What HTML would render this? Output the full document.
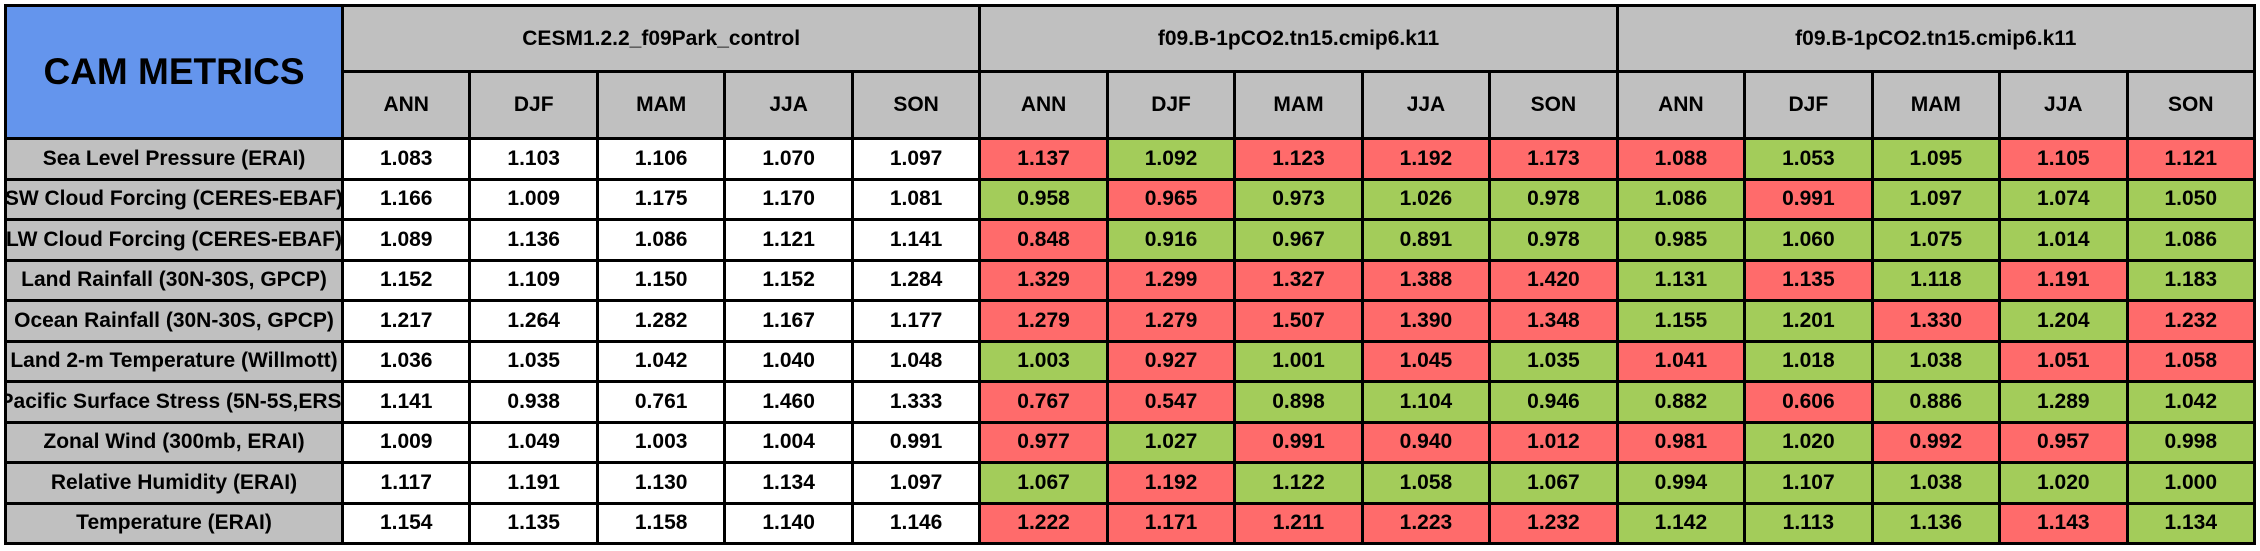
<!DOCTYPE html>
<html><head><meta charset="utf-8"><style>
body{margin:0;background:#fff;width:2260px;height:551px;overflow:hidden;font-family:"Liberation Sans",Arial,sans-serif;font-weight:bold;}
.g{position:absolute;left:4px;top:4px;width:2246px;height:535px;padding:3px;background:#000;display:grid;grid-template-columns:334px repeat(15,1fr);grid-template-rows:63px 64px repeat(10,1fr);gap:3px;}
.g>div{display:flex;align-items:center;justify-content:center;overflow:hidden;white-space:nowrap;font-size:21px;background:#fff;color:#000;}
.t{grid-row:1/3;background:#6495ed!important;font-size:37px!important;}
.h{background:#c0c0c0!important;}
.gh{grid-column:span 5;}
.l{background:#c0c0c0!important;}
.r{background:#ff6b6b!important;}
.n{background:#a3cc5a!important;}
</style></head><body><div class="g">
<div class="t">CAM METRICS</div>
<div class="h gh">CESM1.2.2_f09Park_control</div>
<div class="h gh">f09.B-1pCO2.tn15.cmip6.k11</div>
<div class="h gh">f09.B-1pCO2.tn15.cmip6.k11</div>
<div class="h">ANN</div><div class="h">DJF</div><div class="h">MAM</div><div class="h">JJA</div><div class="h">SON</div>
<div class="h">ANN</div><div class="h">DJF</div><div class="h">MAM</div><div class="h">JJA</div><div class="h">SON</div>
<div class="h">ANN</div><div class="h">DJF</div><div class="h">MAM</div><div class="h">JJA</div><div class="h">SON</div>

<div class="l">Sea Level Pressure (ERAI)</div>
<div>1.083</div><div>1.103</div><div>1.106</div><div>1.070</div><div>1.097</div>
<div class="r">1.137</div><div class="n">1.092</div><div class="r">1.123</div><div class="r">1.192</div><div class="r">1.173</div>
<div class="r">1.088</div><div class="n">1.053</div><div class="n">1.095</div><div class="r">1.105</div><div class="r">1.121</div>

<div class="l">SW Cloud Forcing (CERES-EBAF)</div>
<div>1.166</div><div>1.009</div><div>1.175</div><div>1.170</div><div>1.081</div>
<div class="n">0.958</div><div class="r">0.965</div><div class="n">0.973</div><div class="n">1.026</div><div class="n">0.978</div>
<div class="n">1.086</div><div class="r">0.991</div><div class="n">1.097</div><div class="n">1.074</div><div class="n">1.050</div>

<div class="l">LW Cloud Forcing (CERES-EBAF)</div>
<div>1.089</div><div>1.136</div><div>1.086</div><div>1.121</div><div>1.141</div>
<div class="r">0.848</div><div class="n">0.916</div><div class="n">0.967</div><div class="n">0.891</div><div class="n">0.978</div>
<div class="n">0.985</div><div class="n">1.060</div><div class="n">1.075</div><div class="n">1.014</div><div class="n">1.086</div>

<div class="l">Land Rainfall (30N-30S, GPCP)</div>
<div>1.152</div><div>1.109</div><div>1.150</div><div>1.152</div><div>1.284</div>
<div class="r">1.329</div><div class="r">1.299</div><div class="r">1.327</div><div class="r">1.388</div><div class="r">1.420</div>
<div class="n">1.131</div><div class="r">1.135</div><div class="n">1.118</div><div class="r">1.191</div><div class="n">1.183</div>

<div class="l">Ocean Rainfall (30N-30S, GPCP)</div>
<div>1.217</div><div>1.264</div><div>1.282</div><div>1.167</div><div>1.177</div>
<div class="r">1.279</div><div class="r">1.279</div><div class="r">1.507</div><div class="r">1.390</div><div class="r">1.348</div>
<div class="n">1.155</div><div class="n">1.201</div><div class="r">1.330</div><div class="n">1.204</div><div class="r">1.232</div>

<div class="l">Land 2-m Temperature (Willmott)</div>
<div>1.036</div><div>1.035</div><div>1.042</div><div>1.040</div><div>1.048</div>
<div class="n">1.003</div><div class="r">0.927</div><div class="n">1.001</div><div class="r">1.045</div><div class="n">1.035</div>
<div class="r">1.041</div><div class="n">1.018</div><div class="n">1.038</div><div class="r">1.051</div><div class="r">1.058</div>

<div class="l">Pacific Surface Stress (5N-5S,ERS)</div>
<div>1.141</div><div>0.938</div><div>0.761</div><div>1.460</div><div>1.333</div>
<div class="r">0.767</div><div class="r">0.547</div><div class="n">0.898</div><div class="n">1.104</div><div class="n">0.946</div>
<div class="n">0.882</div><div class="r">0.606</div><div class="n">0.886</div><div class="n">1.289</div><div class="n">1.042</div>

<div class="l">Zonal Wind (300mb, ERAI)</div>
<div>1.009</div><div>1.049</div><div>1.003</div><div>1.004</div><div>0.991</div>
<div class="r">0.977</div><div class="n">1.027</div><div class="r">0.991</div><div class="r">0.940</div><div class="r">1.012</div>
<div class="r">0.981</div><div class="n">1.020</div><div class="r">0.992</div><div class="r">0.957</div><div class="n">0.998</div>

<div class="l">Relative Humidity (ERAI)</div>
<div>1.117</div><div>1.191</div><div>1.130</div><div>1.134</div><div>1.097</div>
<div class="n">1.067</div><div class="r">1.192</div><div class="n">1.122</div><div class="n">1.058</div><div class="n">1.067</div>
<div class="n">0.994</div><div class="n">1.107</div><div class="n">1.038</div><div class="n">1.020</div><div class="n">1.000</div>

<div class="l">Temperature (ERAI)</div>
<div>1.154</div><div>1.135</div><div>1.158</div><div>1.140</div><div>1.146</div>
<div class="r">1.222</div><div class="r">1.171</div><div class="r">1.211</div><div class="r">1.223</div><div class="r">1.232</div>
<div class="n">1.142</div><div class="n">1.113</div><div class="n">1.136</div><div class="r">1.143</div><div class="n">1.134</div>
</div></body></html>
